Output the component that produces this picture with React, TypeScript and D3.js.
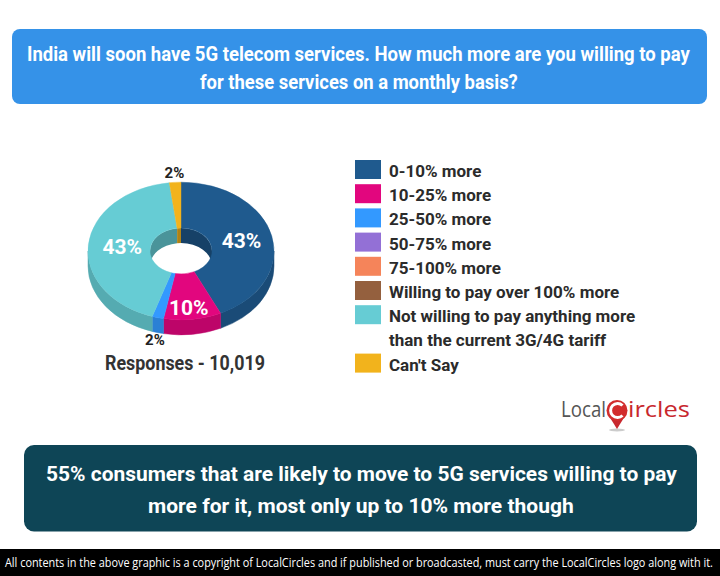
import React, { useLayoutEffect, useRef, useState } from 'react';
import * as d3 from 'd3';

const categories = [
  '0-10% more',
  '10-25% more',
  '25-50% more',
  '50-75% more',
  '75-100% more',
  'Willing to pay over 100% more',
  'Not willing to pay anything more than the current 3G/4G tariff',
  "Can't Say",
];
const legendLines = [
  ['0-10% more'],
  ['10-25% more'],
  ['25-50% more'],
  ['50-75% more'],
  ['75-100% more'],
  ['Willing to pay over 100% more'],
  ['Not willing to pay anything more', 'than the current 3G/4G tariff'],
  ["Can't Say"],
];
const values = [43, 10, 2, 0, 0, 0, 43, 2];
const colors = ['#1f5a8e', '#e2067e', '#3399ff', '#9370d6', '#f5845a', '#94603e', '#66ccd4', '#f2b31c'];

const titleLines = [
  'India will soon have 5G telecom services. How much more are you willing to pay',
  'for these services on a monthly basis?',
];
const summaryLines = [
  '55% consumers that are likely to move to 5G services willing to pay',
  'more for it, most only up to 10% more though',
];
const responsesLabel = 'Responses - 10,019';
const footerText =
  'All contents in the above graphic is a copyright of LocalCircles and if published or broadcasted, must carry the LocalCircles logo along with it.';

const W = 720;
const H = 576;

// pie geometry
const cx = 181;
const cy = 251;
const ro = 93;
const ri = 31;
const k = 0.74;
const D = 15;

function pt(r: number, a: number, dy: number): [number, number] {
  return [cx + r * Math.sin(a), cy - r * k * Math.cos(a) + dy];
}

function wallPath(r: number, s: number, e: number): string {
  const p1 = pt(r, s, 0);
  const p2 = pt(r, e, 0);
  const p3 = pt(r, e, D);
  const p4 = pt(r, s, D);
  const large = e - s > Math.PI ? 1 : 0;
  return `M${p1[0]},${p1[1]} A${r},${r * k} 0 ${large} 1 ${p2[0]},${p2[1]} L${p3[0]},${p3[1]} A${r},${r * k} 0 ${large} 0 ${p4[0]},${p4[1]} Z`;
}

function clip(a: number, b: number, lo: number, hi: number): [number, number] | null {
  const s = Math.max(a, lo);
  const e = Math.min(b, hi);
  return s < e ? [s, e] : null;
}

type FitProps = {
  x: number;
  y: number;
  width: number;
  anchor?: 'start' | 'middle';
  fontSize: number;
  fontWeight?: number;
  fontFamily: string;
  fill: string;
  children: string;
};

function FitText({ x, y, width, anchor = 'start', fontSize, fontWeight = 400, fontFamily, fill, children }: FitProps) {
  const ref = useRef<SVGTextElement>(null);
  const [s, setS] = useState(1);
  useLayoutEffect(() => {
    if (ref.current) {
      const len = ref.current.getComputedTextLength();
      if (len > 0) setS(width / len);
    }
  }, [width, children]);
  return (
    <g transform={`translate(${x},${y}) scale(${s},1)`}>
      <text ref={ref} x={0} y={0} textAnchor={anchor} fontSize={fontSize} fontWeight={fontWeight} fontFamily={fontFamily} fill={fill}>
        {children}
      </text>
    </g>
  );
}

export default function App() {
  const pie = d3
    .pie<number>()
    .sort(null)
    .value((d) => d)
    .startAngle(0)
    .endAngle(2 * Math.PI);
  const arcs = pie(values).map((a, i) => ({ ...a, i }));
  const visible = arcs.filter((a) => a.value > 0);
  const arcGen = d3.arc<any>().innerRadius(ri).outerRadius(ro);

  const dark = (c: string, f: number) => d3.color(c)!.darker(f).formatHex();

  const innerWalls: JSX.Element[] = [];
  const outerWalls: JSX.Element[] = [];
  visible.forEach((a) => {
    const ranges = [clip(a.startAngle, a.endAngle, 0, Math.PI / 2), clip(a.startAngle, a.endAngle, 1.5 * Math.PI, 2 * Math.PI)];
    ranges.forEach((r, j) => {
      if (r) innerWalls.push(<path key={`iw${a.i}-${j}`} d={wallPath(ri, r[0], r[1])} fill={dark(colors[a.i], 0.9)} />);
    });
    const o = clip(a.startAngle, a.endAngle, Math.PI / 2, 1.5 * Math.PI);
    if (o) outerWalls.push(<path key={`ow${a.i}`} d={wallPath(ro, o[0], o[1])} fill={dark(colors[a.i], 0.5)} stroke={dark(colors[a.i], 0.5)} strokeWidth={0.5} />);
  });

  const labels = visible.map((a) => {
    const mid = (a.startAngle + a.endAngle) / 2;
    const pct = `${a.value}%`;
    if (a.value >= 5) {
      const rr = (ri + ro) / 2;
      const drop = Math.max(0, -Math.cos(mid)) * 12;
      const [x, y] = pt(rr, mid, drop);
      return (
        <text key={`l${a.i}`} x={x + (Math.sin(mid) < 0 ? 3 : 0)} y={y + 7} textAnchor="middle" fill="#fff" fontSize={21} fontWeight={700} fontFamily="Roboto">
          {pct}
        </text>
      );
    }
    const R = 105;
    const [x, y] = pt(R, mid, Math.cos(mid) < 0 ? D - 1 : 0);
    return (
      <text key={`l${a.i}`} x={x} y={y + 5} textAnchor="middle" fill="#222" fontSize={15} fontWeight={700} fontFamily="Roboto">
        {pct}
      </text>
    );
  });

  // legend
  let row = 0;
  const legendItems = legendLines.map((lines, i) => {
    const top = 160 + row * 24.2;
    row += lines.length;
    return (
      <g key={`lg${i}`}>
        <rect x={355} y={top} width={26} height={19} fill={colors[i]} />
        {lines.map((t, j) => (
          <text key={j} x={389} y={top + 17 + j * 24.2} fontSize={17} fontWeight={700} fontFamily="Roboto" fill="#2b2b2b">
            {t}
          </text>
        ))}
      </g>
    );
  });

  return (
    <svg width={W} height={H} style={{ position: 'absolute', left: 0, top: 0, background: '#fff' }}>
      <rect x={0} y={0} width={W} height={H} fill="#fff" />
      {/* title */}
      <rect x={12} y={29} width={695} height={75} rx={8} fill="#3592e8" />
      <FitText x={27} y={61} width={663} fontSize={20} fontWeight={700} fontFamily="Roboto" fill="#fff">
        {titleLines[0]}
      </FitText>
      <FitText x={200} y={88.5} width={318} fontSize={20} fontWeight={700} fontFamily="Roboto" fill="#fff">
        {titleLines[1]}
      </FitText>

      {/* pie */}
      <g>{innerWalls}</g>
      <g>{outerWalls}</g>
      <g transform={`translate(${cx},${cy}) scale(1,${k})`}>
        {visible.map((a) => (
          <path key={`t${a.i}`} d={arcGen(a) as string} fill={colors[a.i]} stroke={colors[a.i]} strokeWidth={0.5} />
        ))}
      </g>
      {labels}
      <FitText x={105} y={370} width={160} fontSize={20} fontWeight={700} fontFamily="Roboto" fill="#333">
        {responsesLabel}
      </FitText>

      {/* legend */}
      {legendItems}

      {/* logo */}
      <FitText x={561} y={417} width={45} fontSize={21} fontFamily="'Open Sans'" fill="#555">
        Local
      </FitText>
      <ellipse cx={617} cy={430} rx={8} ry={1.5} fill="#ccc" />
      <path d="M609,416 L617,429 L625,416 Z" fill="#c8282e" />
      <circle cx={617} cy={410.5} r={10.5} fill="#d22d2d" />
      <path d="M622.5,405.5 A7,7 0 1 0 622.5,415.5" fill="none" stroke="#fff" strokeWidth={3} />
      <FitText x={628} y={417} width={62} fontSize={21} fontFamily="'Open Sans'" fill="#c8282e">
        ircles
      </FitText>

      {/* summary */}
      <rect x={24} y={445} width={673} height={86.5} rx={10} fill="#0e4556" />
      <FitText x={46} y={481} width={631} fontSize={20.5} fontWeight={700} fontFamily="Roboto" fill="#fff">
        {summaryLines[0]}
      </FitText>
      <FitText x={148} y={513} width={426} fontSize={20.5} fontWeight={700} fontFamily="Roboto" fill="#fff">
        {summaryLines[1]}
      </FitText>

      {/* footer */}
      <rect x={0} y={549} width={W} height={27} fill="#000" />
      <FitText x={5} y={567} width={709} fontSize={13} fontFamily="'Open Sans'" fill="#fff">
        {footerText}
      </FitText>
    </svg>
  );
}
